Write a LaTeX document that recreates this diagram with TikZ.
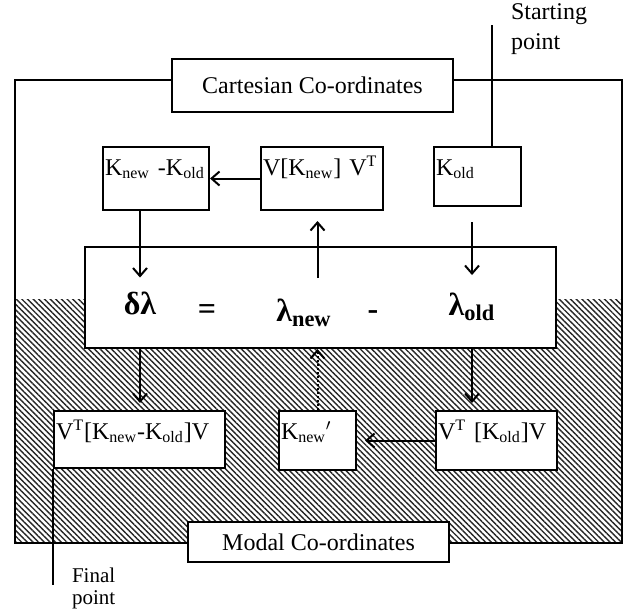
\documentclass[tikz,border=0pt]{standalone}
\usepackage{fontspec}
\setmainfont{Liberation Serif}
\usepackage{tikz}
\usetikzlibrary{arrows.meta,patterns.meta}

\begin{document}
\begin{tikzpicture}[x=0.5pt, y=-0.5pt, >={Straight Barb[length=4pt,width=7pt]}, line width=1pt,
    cell/.style={draw, fill=white, anchor=north west, align=left, inner xsep=1pt, inner ysep=2pt, text height=12pt, font=\fontsize{12}{14}\selectfont},
    band/.style={draw, fill=white, inner sep=0pt, font=\fontsize{12}{14}\selectfont},
    sym/.style={inner sep=1pt, font=\fontsize{16}{18}\selectfont\bfseries},
    note/.style={anchor=north west, align=left, inner sep=0pt}]
    \useasboundingbox (0,0) rectangle (625,611);
    % shaded modal half and the frame
    \fill[pattern={Lines[angle=-45,distance=2pt,line width=0.7pt]}, pattern color=black!85] (15,299) rectangle (622,543);
    \draw (15,80) rectangle (622,543);
    \node[band, minimum width=140.5pt, minimum height=26.5pt] (cart) at (312.5,85.5) {Cartesian Co-ordinates};
    \node[band, minimum width=130.5pt, minimum height=20pt] (modal) at (318.5,542) {Modal Co-ordinates};
    % cartesian side
    \node[cell, text width=51pt, text depth=15.5pt] (kdiff) at (102,146) {K\textsubscript{new} -K\textsubscript{old}};
    \node[cell, text width=59pt, text depth=15.5pt] (vkv) at (260,146) {V[K\textsubscript{new}] V\textsuperscript{T}};
    \node[cell, text width=41.5pt, text depth=13.5pt] (kold) at (433,146) {K\textsubscript{old}};
    % eigenvalue relation
    \node[draw, fill=white, minimum width=235.5pt, minimum height=50.5pt] (eig) at (320.5,297.5) {};
    \node[sym] (dl) at (140,303) {δλ};
    \node[sym] (eq) at (207,312) {=};
    \node[sym] (lnew) at (304,313) {λ\textsubscript{new}};
    \node[sym] (minus) at (373,315) {-};
    \node[sym] (lold) at (472,307) {λ\textsubscript{old}};
    % modal side
    \node[cell, text width=83.5pt, text depth=12.5pt] (vtkdv) at (53,410) {V\textsuperscript{T}[K\textsubscript{new}-K\textsubscript{old}]V};
    \node[cell, text width=36.5pt, text depth=13.5pt] (knewp) at (278,410) {K\textsubscript{new}$'$};
    \node[cell, text width=58.5pt, text depth=13.5pt] (vtkov) at (435,410) {V\textsuperscript{T} [K\textsubscript{old}]V};
    % connectors
    \draw[->] (vkv.west) -- (kdiff.east);
    \draw[->, shorten >=5.5pt] (dl |- kdiff.south) -- (dl.north);
    \draw[->, shorten <=9pt, shorten >=5pt] (lnew.north -| knewp) -- (vkv.south -| knewp);
    \draw[->, shorten <=7.5pt, shorten >=7.5pt] (lold |- kold.south) -- (lold.north);
    \draw[->, shorten >=3.5pt] (dl |- eig.south) -- (dl |- vtkdv.north);
    \draw[->, densely dotted] (knewp.north) -- (knewp.north |- eig.south);
    \draw[->, shorten >=3.5pt] (lold |- eig.south) -- (lold |- vtkov.north);
    \draw[->, shorten >=4pt] (vtkov.west) -- (knewp.east);
    % start and end of the loop
    \coordinate (start) at (492,25);
    \draw (start) -- (start |- kold.north);
    \node[note, font=\fontsize{12}{15}\selectfont] (startlbl) at (510,3) {Starting\\point};
    \coordinate (final) at (53,585);
    \draw (vtkdv.south west) -- (final);
    \node[note, font=\fontsize{10.5}{11}\selectfont] (finallbl) at (71,567) {Final\\point};
\end{tikzpicture}
\end{document}
